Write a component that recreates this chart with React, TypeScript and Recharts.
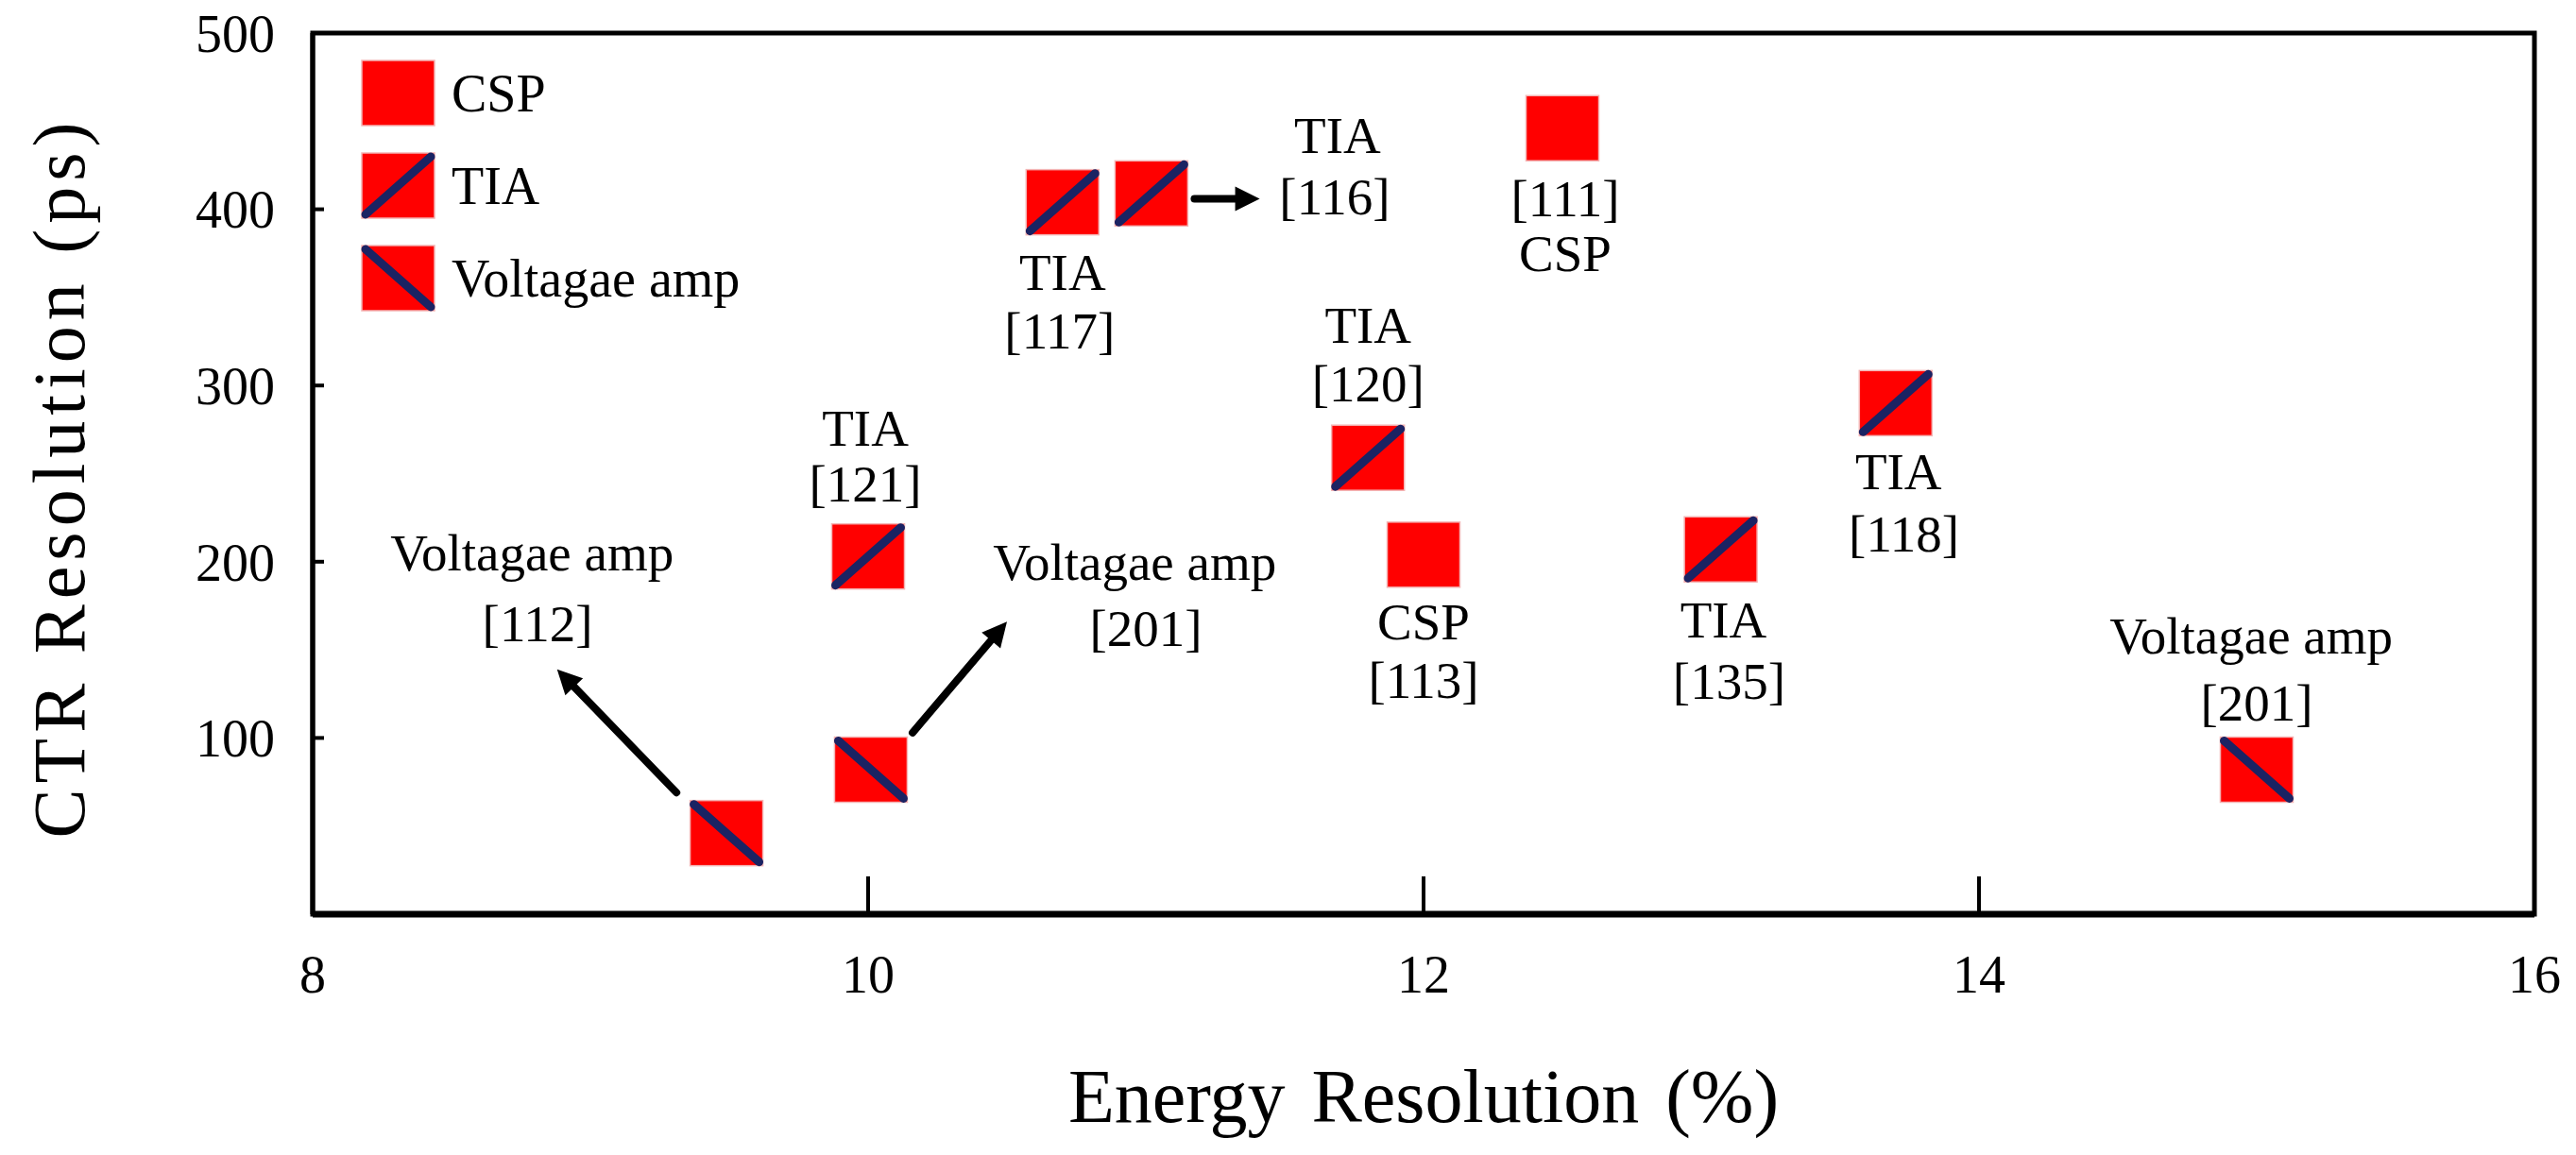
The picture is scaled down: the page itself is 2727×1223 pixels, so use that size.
import React from 'react';
import {
  ScatterChart,
  Scatter,
  XAxis,
  YAxis,
  ReferenceLine,
  ReferenceArea,
  Legend,
} from 'recharts';

const FONT = "'Times New Roman', 'Liberation Serif', serif";
const RED = '#ff0000';
const NAVY = '#1b2363';

const xTicks = [8, 10, 12, 14, 16];
const yTicks = [100, 200, 300, 400, 500];

// energy resolution (%), CTR (ps)
const cspPoints = [
  { x: 12.5, y: 446 },
  { x: 12.0, y: 204 },
];
const tiaPoints = [
  { x: 10.0, y: 203 },
  { x: 10.7, y: 404 },
  { x: 11.02, y: 409 },
  { x: 11.8, y: 259 },
  { x: 13.07, y: 207 },
  { x: 13.7, y: 290 },
];
const voltagePoints = [
  { x: 9.49, y: 46 },
  { x: 10.01, y: 82 },
  { x: 15.0, y: 82 },
];

// text annotations placed in data coordinates
const annotations = [
  { x: 8.79, y: 205, text: 'Voltagae amp' },
  { x: 8.81, y: 165, text: '[112]' },
  { x: 9.99, y: 276, text: 'TIA' },
  { x: 9.99, y: 244, text: '[121]' },
  { x: 10.96, y: 200, text: 'Voltagae amp' },
  { x: 11.0, y: 162, text: '[201]' },
  { x: 10.7, y: 364, text: 'TIA' },
  { x: 10.69, y: 331, text: '[117]' },
  { x: 11.69, y: 442, text: 'TIA' },
  { x: 11.68, y: 407, text: '[116]' },
  { x: 12.51, y: 406, text: '[111]' },
  { x: 12.51, y: 375, text: 'CSP' },
  { x: 11.8, y: 334, text: 'TIA' },
  { x: 11.8, y: 301, text: '[120]' },
  { x: 12.0, y: 166, text: 'CSP' },
  { x: 12.0, y: 133, text: '[113]' },
  { x: 13.08, y: 167, text: 'TIA' },
  { x: 13.1, y: 132, text: '[135]' },
  { x: 13.71, y: 251, text: 'TIA' },
  { x: 13.73, y: 216, text: '[118]' },
  { x: 14.98, y: 158, text: 'Voltagae amp' },
  { x: 15.0, y: 120, text: '[201]' },
];

// arrows: start -> tip, data coordinates
const arrows = [
  { x1: 9.31, y1: 69, x2: 8.88, y2: 139 },
  { x1: 10.16, y1: 103, x2: 10.5, y2: 166 },
  { x1: 11.175, y1: 406, x2: 11.41, y2: 406 },
];

const MW = 77;
const MH = 69;

function marker(kind: string, cx: number, cy: number) {
  const x0 = cx - MW / 2;
  const y0 = cy - MH / 2;
  return (
    <g>
      <rect x={x0} y={y0} width={MW} height={MH} fill={RED} stroke="#f4b4b4" strokeWidth={1.5} />
      {kind === 'TIA' && (
        <line x1={x0 + 4} y1={y0 + MH - 4} x2={x0 + MW - 4} y2={y0 + 4}
          stroke={NAVY} strokeWidth={9} strokeLinecap="round" />
      )}
      {kind === 'Voltagae amp' && (
        <line x1={x0 + 4} y1={y0 + 4} x2={x0 + MW - 4} y2={y0 + MH - 4}
          stroke={NAVY} strokeWidth={9} strokeLinecap="round" />
      )}
    </g>
  );
}

const shapeFor = (kind: string) => (props: any) => marker(kind, props.cx, props.cy);

const renderText = (props: any) => (
  <text x={props.cx} y={props.cy} dy="0.34em" textAnchor="middle"
    fontSize={55} fill="#000" fontFamily={FONT}>
    {props.payload.text}
  </text>
);

function renderArrow(props: any) {
  const { x1, y1, x2, y2 } = props;
  const dx = x2 - x1;
  const dy = y2 - y1;
  const len = Math.sqrt(dx * dx + dy * dy) || 1;
  const ux = dx / len;
  const uy = dy / len;
  const head = 26;
  const half = 13;
  const bx = x2 - ux * head;
  const by = y2 - uy * head;
  return (
    <g>
      <line x1={x1} y1={y1} x2={bx + ux * 2} y2={by + uy * 2} stroke="#000" strokeWidth={8} strokeLinecap="round" />
      <polygon
        points={`${x2},${y2} ${bx - uy * half},${by + ux * half} ${bx + uy * half},${by - ux * half}`}
        fill="#000"
      />
    </g>
  );
}

function LegendContent(props: any) {
  const items = (props.payload || []).filter((p: any) => p.type !== 'none' && p.value);
  return (
    <div style={{ display: 'flex', flexDirection: 'column', gap: 29, fontFamily: FONT }}>
      {items.map((item: any) => (
        <div key={item.value} style={{ display: 'flex', alignItems: 'center', height: MH }}>
          <svg width={MW} height={MH} style={{ overflow: 'visible' }}>
            {marker(item.value, MW / 2, MH / 2)}
          </svg>
          <span style={{ marginLeft: 18, fontSize: 56, lineHeight: 1, color: '#000' }}>{item.value}</span>
        </div>
      ))}
    </div>
  );
}

const xTitle = (props: any) => {
  const vb = props.viewBox || { x: 331, y: 968, width: 2352 };
  return (
    <text x={vb.x + vb.width / 2} y={vb.y + 220} textAnchor="middle" fontSize={80}
      fontFamily={FONT} fill="#000" style={{ wordSpacing: 8 }}>
      Energy Resolution (%)
    </text>
  );
};

const yTitle = (props: any) => {
  const vb = props.viewBox || { x: 131, y: 35, height: 933 };
  const cx = vb.x - 68;
  const cy = vb.y + vb.height / 2 + 4;
  return (
    <text x={cx} y={cy} dy="0.33em" textAnchor="middle" fontSize={78} fontFamily={FONT}
      fill="#000" letterSpacing={6} transform={`rotate(-90, ${cx}, ${cy})`}>
      CTR Resolution (ps)
    </text>
  );
};

export default function App() {
  return (
    <div style={{ position: 'absolute', left: 0, top: 0, width: 2727, height: 1223, background: '#fff', fontFamily: FONT }}>
      <ScatterChart width={2727} height={1223} margin={{ top: 35, right: 44, bottom: 155, left: 131 }}>
        <XAxis
          type="number"
          dataKey="x"
          domain={[8, 16]}
          ticks={xTicks}
          height={100}
          axisLine={{ stroke: '#000', strokeWidth: 7 }}
          tickLine={{ stroke: '#000', strokeWidth: 4 }}
          tickSize={-40}
          tickMargin={83}
          tick={{ fontSize: 56, fill: '#000', fontFamily: FONT }}
          label={{ content: xTitle }}
          allowDataOverflow
        />
        <YAxis
          type="number"
          dataKey="y"
          domain={[0, 500]}
          ticks={yTicks}
          width={200}
          axisLine={{ stroke: '#000', strokeWidth: 5 }}
          tickLine={{ stroke: '#000', strokeWidth: 4 }}
          tickSize={-12}
          tickMargin={52}
          tick={{ fontSize: 56, fill: '#000', fontFamily: FONT }}
          label={{ content: yTitle }}
          allowDataOverflow
        />
        <ReferenceArea x1={8} x2={16} y1={0} y2={500} fill="none" stroke="#000" strokeWidth={5} ifOverflow="visible" />
        {arrows.map((a, i) => (
          <ReferenceLine
            key={i}
            segment={[{ x: a.x1, y: a.y1 }, { x: a.x2, y: a.y2 }]}
            shape={renderArrow}
            ifOverflow="visible"
          />
        ))}
        <Scatter name="CSP" data={cspPoints} fill={RED} shape={shapeFor('CSP')} isAnimationActive={false} />
        <Scatter name="TIA" data={tiaPoints} fill={RED} shape={shapeFor('TIA')} isAnimationActive={false} />
        <Scatter name="Voltagae amp" data={voltagePoints} fill={RED} shape={shapeFor('Voltagae amp')} isAnimationActive={false} />
        <Scatter name="labels" data={annotations} legendType="none" shape={renderText} isAnimationActive={false} />
        <Legend
          layout="vertical"
          align="center"
          verticalAlign="middle"
          content={LegendContent}
          wrapperStyle={{ position: 'absolute', left: 383, top: 64, width: 480, height: 300 }}
        />
      </ScatterChart>
    </div>
  );
}
